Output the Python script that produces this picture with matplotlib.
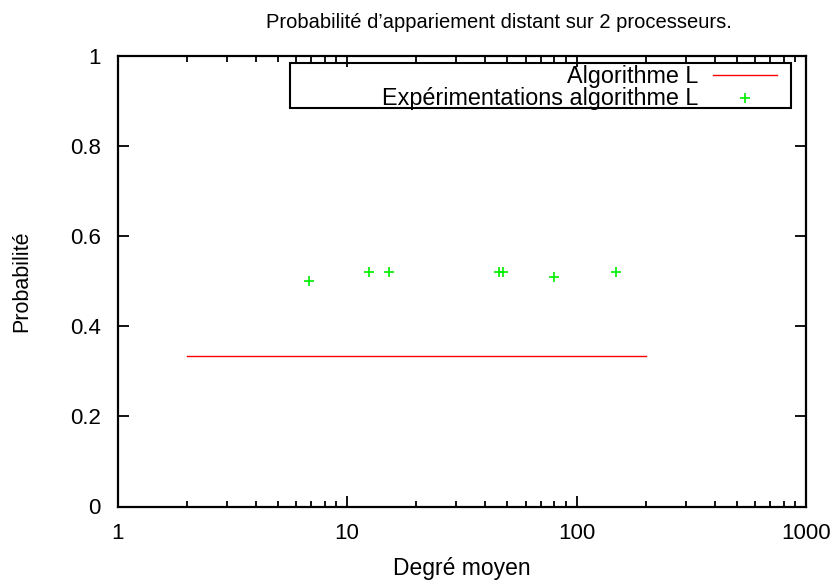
import matplotlib
matplotlib.use('Agg')
import matplotlib.pyplot as plt
from matplotlib.patches import Rectangle
from matplotlib.lines import Line2D
from matplotlib.ticker import LogLocator, NullFormatter, FixedLocator, FixedFormatter

plt.rcParams['font.family'] = ['Liberation Sans', 'DejaVu Sans']

# theoretical value of algorithm L
theory_x = [2, 200]
theory_y = [1 / 3, 1 / 3]

# measured values
exp_x = [6.8, 12.5, 15.2, 46, 48, 80, 148]
exp_y = [0.50, 0.52, 0.52, 0.52, 0.52, 0.51, 0.52]

xticks = [1, 10, 100, 1000]
xlabels = ['1', '10', '100', '1000']
yticks = [0, 0.2, 0.4, 0.6, 0.8, 1]
ylabels = ['0', '0.2', '0.4', '0.6', '0.8', '1']

W, H = 838, 582
fig = plt.figure(figsize=(W / 100, H / 100), dpi=100)
ax = fig.add_axes([117.5 / W, 1 - 506.5 / H, (806 - 117.5) / W, (506.5 - 55.7) / H])

ax.plot(theory_x, theory_y, color='#ff0000', lw=1.0)
ax.plot(exp_x, exp_y, ls='none', marker='+', color='#00ee00', ms=7, mew=1.2)

ax.set_xscale('log')
ax.set_xlim(1, 1000)
ax.set_ylim(0, 1)

ax.xaxis.set_major_locator(FixedLocator(xticks))
ax.xaxis.set_major_formatter(FixedFormatter(xlabels))
ax.xaxis.set_minor_locator(LogLocator(base=10, subs=range(2, 10)))
ax.xaxis.set_minor_formatter(NullFormatter())
ax.yaxis.set_major_locator(FixedLocator(yticks))
ax.yaxis.set_major_formatter(FixedFormatter(ylabels))

for s in ax.spines.values():
    s.set_linewidth(1.6)
ax.tick_params(which='both', direction='in', top=True, right=True, width=1.3, labelsize=16)
ax.tick_params(which='major', length=8, pad=12)
ax.tick_params(which='minor', length=4)

ax.set_xlabel('Degré moyen', fontsize=16.5, labelpad=9)
ax.set_ylabel('Probabilité', fontsize=15.5, labelpad=27)
fig.text(499 / W, 1 - 22 / H, 'Probabilité d\u2019appariement distant sur 2 processeurs.',
         ha='center', va='center', fontsize=14.5)

# key box in the upper right corner
fx = lambda px: px / W
fy = lambda py: 1 - py / H
fig.patches.append(Rectangle((fx(290), fy(108)), fx(791) - fx(290), fy(63) - fy(108),
                             transform=fig.transFigure, fill=False, ec='black', lw=1.5))
fig.text(fx(698), fy(83), 'Algorithme L', ha='right', va='baseline', fontsize=16.8)
fig.text(fx(698), fy(105), 'Expérimentations algorithme L', ha='right', va='baseline', fontsize=16.8)
fig.lines.append(Line2D([fx(713), fx(777)], [fy(75), fy(75)], transform=fig.transFigure,
                        color='#ff0000', lw=1.0))
fig.lines.append(Line2D([fx(745)], [fy(98)], transform=fig.transFigure, ls='none',
                        marker='+', color='#00ee00', ms=7, mew=1.2))

fig.savefig('out.png', dpi=100)
